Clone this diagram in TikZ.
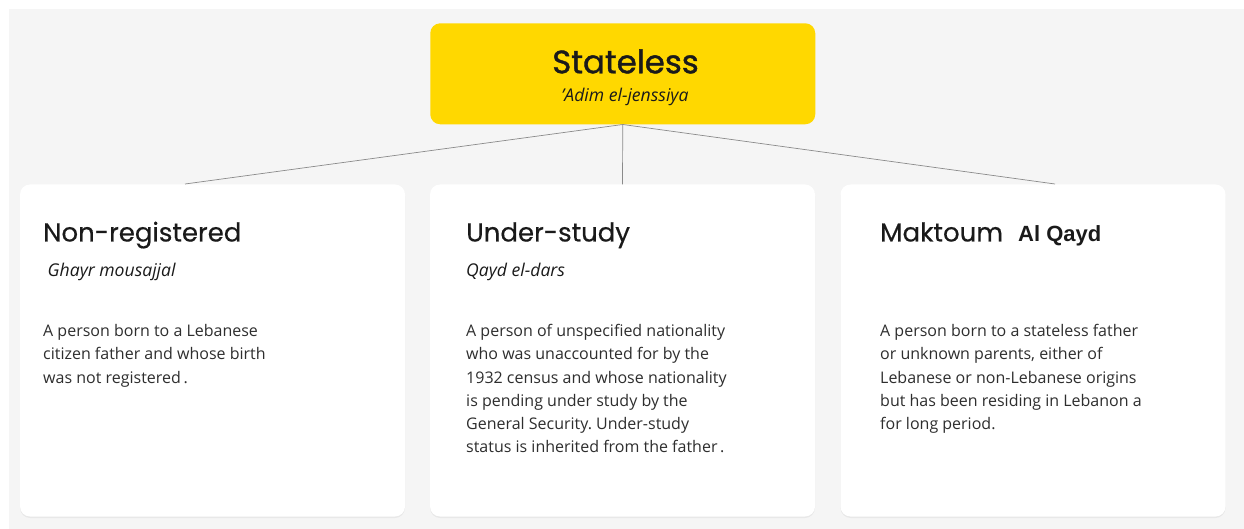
\documentclass[tikz,border=0pt]{standalone}
\usepackage{fontspec}
\setmainfont{Open Sans}
\newfontfamily\titlefont[FakeBold=0.4]{Poppins}
\newfontfamily\statefont[FakeBold=1.2]{Poppins}
\newfontfamily\arialfont{Liberation Sans}
\usetikzlibrary{shadows,calc}
\definecolor{bgc}{HTML}{F5F5F5}
\definecolor{gold}{HTML}{FFD800}
\definecolor{ink}{HTML}{1A1A1A}
\definecolor{body}{HTML}{2E2E2E}
\definecolor{conn}{HTML}{8A8A8A}
\tikzset{
  card/.style={fill=white, rounded corners=10pt, minimum width=385pt, minimum height=332pt, inner sep=0pt,
    drop shadow={shadow xshift=0pt, shadow yshift=-1.5pt, opacity=0.05, fill=black}},
  topbox/.style={fill=gold, rounded corners=10pt, minimum width=385pt, minimum height=101pt, inner sep=0pt},
  cardtitle/.style={anchor=base west, inner sep=0pt, text=ink, font=\titlefont\fontsize{26}{30}\selectfont},
  cardsub/.style={anchor=base west, inner sep=0pt, text=ink, font=\itshape\fontsize{17.6}{21}\selectfont},
  cardbody/.style={anchor=base west, inner sep=0pt, text=body, font=\fontsize{16}{23.2}\selectfont},
  conn/.style={draw=conn, line width=0.7pt}
}
\newcommand{\bodytext}[1]{\parbox[t]{340pt}{\raggedright\frenchspacing #1}}
\begin{document}
\begin{tikzpicture}[x=1pt,y=-1pt]
\useasboundingbox (0,0) rectangle (1244,529);
\fill[bgc] (9,9) rectangle (1244,529);
% cards
\node[card] (c1) at (212.5,350.5) {};
\node[card] (c2) at (622.5,350.5) {};
\node[card] (c3) at (1033,350.5) {};
\node[topbox] (top) at (622.75,73.8) {};
% connectors
\coordinate (e1) at (185,184);
\coordinate (e3) at (1055,184);
\draw[conn] (top.south) -- (e1);
\draw[conn] (top.south) -- (c2.north);
\draw[conn] (top.south) -- (e3);
% top texts
\node[anchor=base, inner sep=0pt, text=ink, font=\statefont\fontsize{32.4}{36}\selectfont] (st) at (625.5,73.3) {Stateless};
\node[anchor=base, inner sep=0pt, text=ink, font=\itshape\fontsize{17.6}{21}\selectfont] (sts) at (625,102) {’Adim el-jenssiya};
% card 1
\node[cardtitle] (t1) at (43,241.5) {Non-registered};
\node[cardsub] (s1) at (47.5,276.5) {Ghayr mousajjal};
\node[cardbody] (b1) at (43,336.7) {\bodytext{A person born to a Lebanese\\citizen father and whose birth\\was not registered\,.}};
% card 2
\node[cardtitle] (t2) at (466,241.5) {Under-study};
\node[cardsub] (s2) at (466,276.5) {Qayd el-dars};
\node[cardbody] (b2) at (466,336.7) {\bodytext{A person of unspecified nationality\\who was unaccounted for by the\\1932 census and whose nationality\\is pending under study by the\\General Security. Under-study\\status is inherited from the father\,.}};
% card 3
\node[cardtitle] (t3) at (880,241.5) {Maktoum};
\node[anchor=base west, inner sep=0pt, text=ink, font=\arialfont\bfseries\fontsize{22}{26}\selectfont] (q3) at (1018,241.5) {Al Qayd};
\node[cardbody] (b3) at (880,336.7) {\bodytext{A person born to a stateless father\\or unknown parents, either of\\Lebanese or non-Lebanese origins\\but has been residing in Lebanon a\\for long period.}};
\end{tikzpicture}
\end{document}
